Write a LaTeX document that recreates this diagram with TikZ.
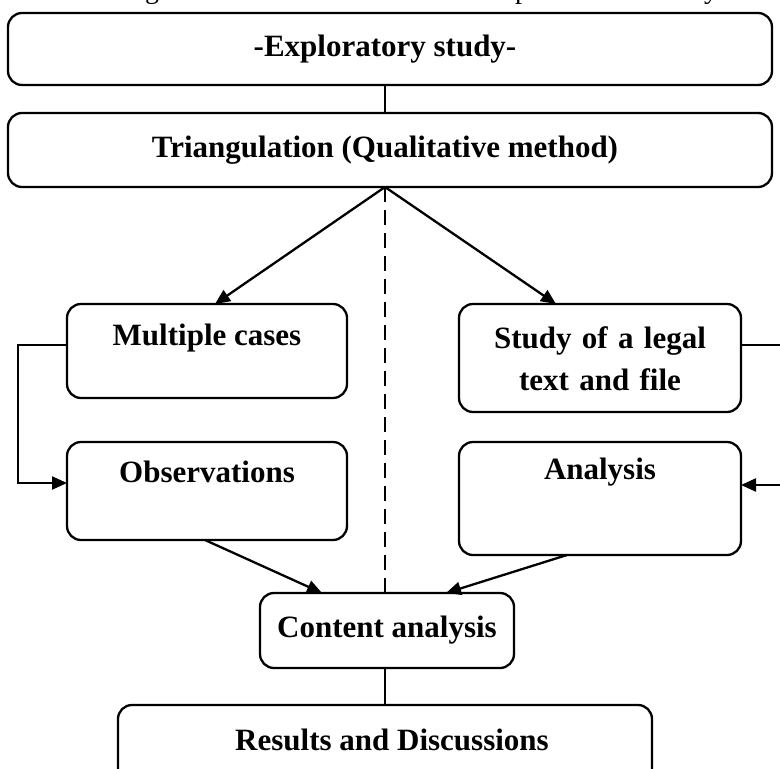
\documentclass[tikz,border=0pt]{standalone}
\usepackage{fontspec}
\setmainfont{Liberation Serif}
\usetikzlibrary{arrows.meta}
\begin{document}
\begin{tikzpicture}[x=1pt,y=-1pt,
  box/.style={draw,line width=2.3pt,rounded corners=14pt},
  lbl/.style={font=\fontsize{31}{42}\selectfont\bfseries,align=center,inner sep=0pt},
  captext/.style={font=\fontsize{28}{34}\selectfont,anchor=base,inner sep=0pt},
  conn/.style={line width=2.3pt},
  arr/.style={line width=2.3pt,-{Triangle[length=15pt,width=13pt]}}]
\useasboundingbox (0,0) rectangle (780,769);
% descenders of the caption line above the chart
\node[captext] (capg) at (152,-2) {g};
\node[captext] (capp) at (522,-2) {p};
\node[captext] (capy) at (711,-2) {y};
% boxes
\draw[box] (8,13) rectangle (772,85);
\coordinate (b1s) at (385,85);
\node[lbl] (t1) at (385,49) {-Exploratory study-};
\draw[box] (8,113) rectangle (772,187);
\coordinate (b2n) at (385,113);
\coordinate (b2s) at (385,187);
\node[lbl] (t2) at (385,150) {Triangulation (Qualitative method)};
\draw[box] (67,304) rectangle (347,398);
\node[lbl] (t3) at (207,338) {Multiple cases};
\draw[box] (459,304) rectangle (741,412);
\node[lbl,text width=260pt] (t4) at (600,359) {Study of a legal\\text and file};
\draw[box] (67,442) rectangle (347,540);
\node[lbl] (t5) at (207,472) {Observations};
\draw[box] (459,442) rectangle (741,555);
\node[lbl] (t6) at (600,472) {Analysis};
\draw[box] (260,593) rectangle (514,668);
\node[lbl] (t7) at (387,630) {Content analysis};
\draw[box] (118,705) rectangle (652,790);
\node[lbl] (t8) at (392,740) {Results and Discussions};
% connectors
\draw[conn] (b1s) -- (b2n);
\draw[arr] (b2s) -- (215,304);
\draw[arr] (b2s) -- (556,304);
\draw[conn,dash pattern=on 15pt off 8pt] (b2s) -- (385,593);
\draw[arr] (67,345) -- (18,345) -- (18,483) -- (67,483);
\draw[arr] (741,345) -- (782,345) -- (782,485) -- (741,485);
\draw[arr] (205,540) -- (322,593);
\draw[arr] (567,555) -- (446,593);
\draw[conn] (385,668) -- (385,705);
\end{tikzpicture}
\end{document}
